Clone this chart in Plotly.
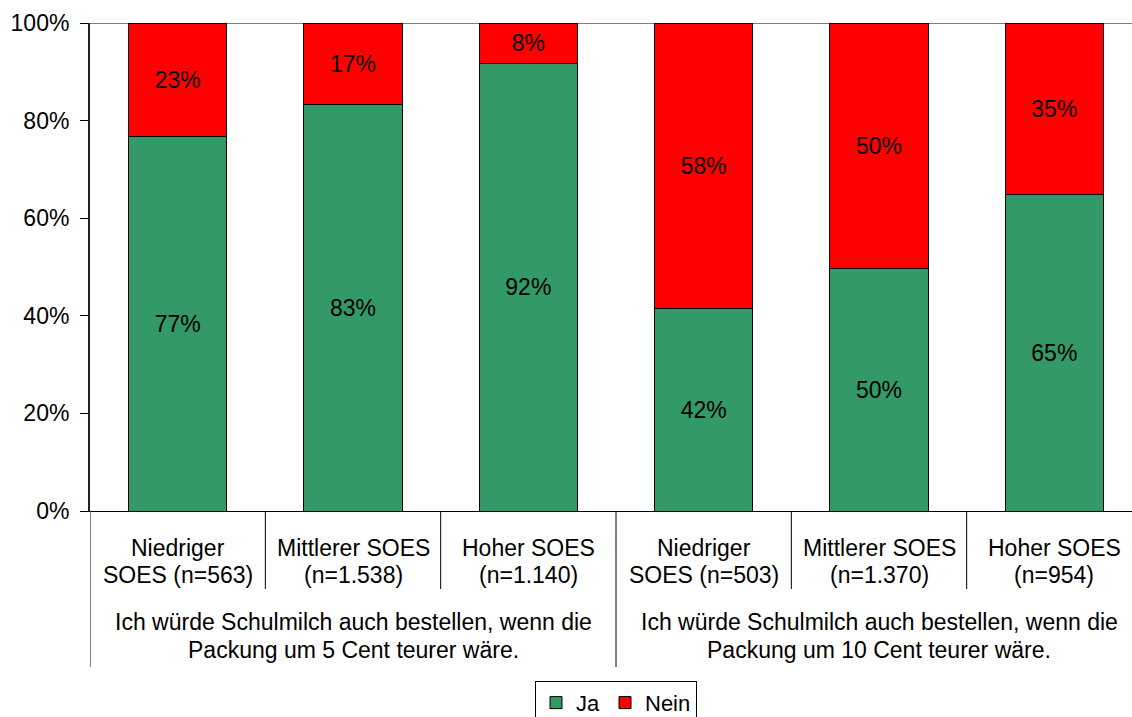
import plotly.graph_objects as go

categories = ["Niedriger<br>SOES (n=563)", "Mittlerer SOES<br>(n=1.538)", "Hoher SOES<br>(n=1.140)",
              "Niedriger<br>SOES (n=503)", "Mittlerer SOES<br>(n=1.370)", "Hoher SOES<br>(n=954)"]
groups = ["Ich würde Schulmilch auch bestellen, wenn die<br>Packung um 5 Cent teurer wäre.",
          "Ich würde Schulmilch auch bestellen, wenn die<br>Packung um 10 Cent teurer wäre."]
ja_values = [76.8, 83.2, 91.6, 41.4, 49.6, 64.8]
nein_values = [23.2, 16.8, 8.4, 58.6, 50.4, 35.2]
ja_labels = ["77%", "83%", "92%", "42%", "50%", "65%"]
nein_labels = ["23%", "17%", "8%", "58%", "50%", "35%"]
y_ticks = [0, 20, 40, 60, 80, 100]
y_ticktext = ["0%", "20%", "40%", "60%", "80%", "100%"]

x = list(range(len(categories)))
FONT = "Liberation Sans, Arial, sans-serif"
FS = 23
BAR_W = 0.56

fig = go.Figure()
fig.add_trace(go.Bar(x=x, y=ja_values, name="Ja", text=ja_labels, textposition="inside",
                     insidetextanchor="middle", textfont=dict(size=FS, color="black"),
                     marker=dict(color="#339966", line=dict(color="black", width=1)),
                     width=BAR_W, constraintext="none"))
fig.add_trace(go.Bar(x=x, y=nein_values, name="Nein", text=nein_labels, textposition="inside",
                     insidetextanchor="middle", textfont=dict(size=FS, color="black"),
                     marker=dict(color="#FF0000", line=dict(color="black", width=1)),
                     width=BAR_W, constraintext="none"))

LINE_GAP = 27
# category labels (one annotation per line for tight line spacing)
for i, c in enumerate(categories):
    for k, line in enumerate(c.split("<br>")):
        fig.add_annotation(x=i, xref="x", y=0, yref="paper", yanchor="middle",
                           yshift=-(37 + k * LINE_GAP), text=line, showarrow=False,
                           font=dict(size=FS, color="black", family=FONT))
# group labels
n_per_group = len(categories) // len(groups)
for g, t in enumerate(groups):
    cx = g * n_per_group + (n_per_group - 1) / 2
    for k, line in enumerate(t.split("<br>")):
        fig.add_annotation(x=cx, xref="x", y=0, yref="paper", yanchor="middle",
                           yshift=-(111 + k * (LINE_GAP + 1)), text=line, showarrow=False,
                           font=dict(size=FS, color="black", family=FONT))

# separators
for i in range(len(categories)):
    xs = i - 0.5
    long = (i % n_per_group == 0)
    fig.add_shape(type="line", xref="x", yref="paper", ysizemode="pixel", yanchor=0,
                  x0=xs, x1=xs, y0=0, y1=-156 if long else -78,
                  line=dict(color="black", width=1))
# top border line
fig.add_shape(type="line", xref="paper", yref="y", x0=0, x1=1, y0=100, y1=100,
              line=dict(color="black", width=1))

fig.update_layout(
    width=1142, height=717,
    barmode="stack",
    paper_bgcolor="white", plot_bgcolor="white",
    font=dict(family=FONT, size=FS, color="black"),
    margin=dict(l=90, r=0, t=23, b=206, autoexpand=False),
    showlegend=True,
    legend=dict(orientation="h", x=0.5, xanchor="center", y=-0.348, yanchor="top",
                bordercolor="black", borderwidth=1, font=dict(size=22),
                itemwidth=30, traceorder="normal"),
    xaxis=dict(range=[-0.5, 5.5], showticklabels=False, ticks="", showgrid=False,
               showline=True, linecolor="black", linewidth=1, zeroline=False),
    yaxis=dict(range=[0, 100], tickvals=y_ticks, ticktext=y_ticktext, ticks="outside", ticklen=8,
               tickcolor="black", showgrid=False, showline=True, linecolor="#222", linewidth=2,
               zeroline=False, tickfont=dict(size=FS), ticklabelstandoff=6),
)

fig.write_html("out.html", config={"displayModeBar": False},
               post_script="document.body.style.margin='0';document.body.style.overflow='hidden';")
